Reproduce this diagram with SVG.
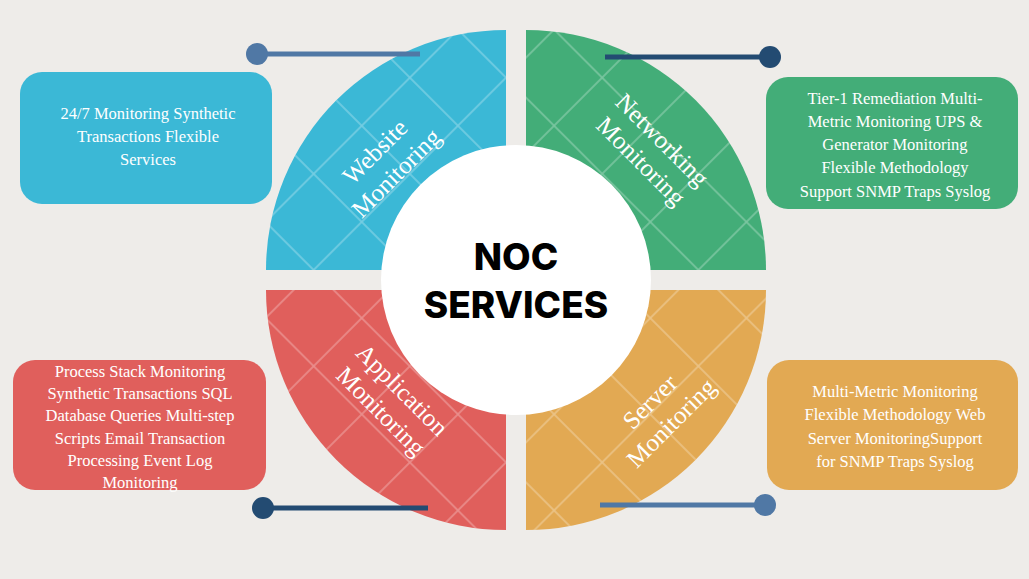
<svg xmlns="http://www.w3.org/2000/svg" width="1029" height="579" viewBox="0 0 1029 579">
<defs>
<pattern id="g" patternUnits="userSpaceOnUse" width="68" height="68" patternTransform="translate(506,270) rotate(45)">
<rect width="68" height="68" fill="none" stroke="#ffffff" stroke-opacity="0.3" stroke-width="1.6"/>
</pattern>
<style>
.lbl{font-family:"Liberation Serif",serif;font-size:25px;fill:#fff;text-anchor:middle}
.bt{font-family:"Liberation Serif",serif;font-size:16.5px;fill:#fff;text-anchor:middle}
.c{font-family:Inter,"Liberation Sans",sans-serif;font-weight:800;font-size:37px;fill:#000;text-anchor:middle}
</style>
</defs>
<rect width="1029" height="579" fill="#EEECE9"/>
<g id="q-website"><path d="M506,270 L266,270 A240,240 0 0 1 506,30 Z" fill="#3BB8D6"/><path d="M506,270 L266,270 A240,240 0 0 1 506,30 Z" fill="url(#g)"/>
<text class="lbl" transform="translate(385,162) rotate(-45)"><tspan x="0" y="-6">Website</tspan><tspan x="0" y="24">Monitoring</tspan></text></g>
<g id="q-networking"><path d="M526,270 L766,270 A240,240 0 0 0 526,30 Z" fill="#43AD78"/><path d="M526,270 L766,270 A240,240 0 0 0 526,30 Z" fill="url(#g)"/>
<text class="lbl" transform="translate(652,150) rotate(45)"><tspan x="0" y="-6">Networking</tspan><tspan x="0" y="24">Monitoring</tspan></text></g>
<g id="q-application"><path d="M506,290 L266,290 A240,240 0 0 0 506,530 Z" fill="#E05F5C"/><path d="M506,290 L266,290 A240,240 0 0 0 506,530 Z" fill="url(#g)"/>
<text class="lbl" transform="translate(392,400) rotate(45)"><tspan x="0" y="-6">Application</tspan><tspan x="0" y="24">Monitoring</tspan></text></g>
<g id="q-server"><path d="M526,290 L766,290 A240,240 0 0 1 526,530 Z" fill="#E2A953"/><path d="M526,290 L766,290 A240,240 0 0 1 526,530 Z" fill="url(#g)"/>
<text class="lbl" transform="translate(660,412) rotate(-45)"><tspan x="0" y="-6">Server</tspan><tspan x="0" y="24">Monitoring</tspan></text></g>
<g id="center"><circle cx="516" cy="280" r="135" fill="#fff"/>
<text class="c" x="516" y="270">NOC</text><text class="c" x="516" y="318">SERVICES</text></g>
<g id="connectors">
<line x1="257" y1="54" x2="420" y2="54" stroke="#5078A5" stroke-width="5"/><circle cx="257" cy="54" r="11" fill="#5078A5"/>
<line x1="605" y1="57" x2="770" y2="57" stroke="#234B72" stroke-width="5"/><circle cx="770" cy="57" r="11" fill="#234B72"/>
<line x1="263" y1="508" x2="428" y2="508" stroke="#234B72" stroke-width="5"/><circle cx="263" cy="508" r="11" fill="#234B72"/>
<line x1="600" y1="505" x2="765" y2="505" stroke="#5078A5" stroke-width="5"/><circle cx="765" cy="505" r="11" fill="#5078A5"/>
</g>
<g id="box-website"><rect x="20" y="72" width="252" height="132" rx="22" fill="#3BB8D6"/>
<text class="bt"><tspan x="148" y="119">24/7 Monitoring Synthetic</tspan><tspan x="148" y="142">Transactions Flexible</tspan><tspan x="148" y="165">Services</tspan></text></g>
<g id="box-networking"><rect x="766" y="77" width="252" height="132" rx="22" fill="#43AD78"/>
<text class="bt"><tspan x="895" y="104">Tier-1 Remediation Multi-</tspan><tspan x="895" y="127">Metric Monitoring UPS &amp;</tspan><tspan x="895" y="150">Generator Monitoring</tspan><tspan x="895" y="173">Flexible Methodology</tspan><tspan x="895" y="197">Support SNMP Traps Syslog</tspan></text></g>
<g id="box-application"><rect x="13" y="360" width="253" height="130" rx="22" fill="#E05F5C"/>
<text class="bt"><tspan x="140" y="377">Process Stack Monitoring</tspan><tspan x="140" y="399">Synthetic Transactions SQL</tspan><tspan x="140" y="421">Database Queries Multi-step</tspan><tspan x="140" y="444">Scripts Email Transaction</tspan><tspan x="140" y="466">Processing Event Log</tspan><tspan x="140" y="488">Monitoring</tspan></text></g>
<g id="box-server"><rect x="767" y="360" width="251" height="130" rx="22" fill="#E2A953"/>
<text class="bt"><tspan x="895" y="397">Multi-Metric Monitoring</tspan><tspan x="895" y="420">Flexible Methodology Web</tspan><tspan x="895" y="444">Server MonitoringSupport</tspan><tspan x="895" y="467">for SNMP Traps Syslog</tspan></text></g>
</svg>
